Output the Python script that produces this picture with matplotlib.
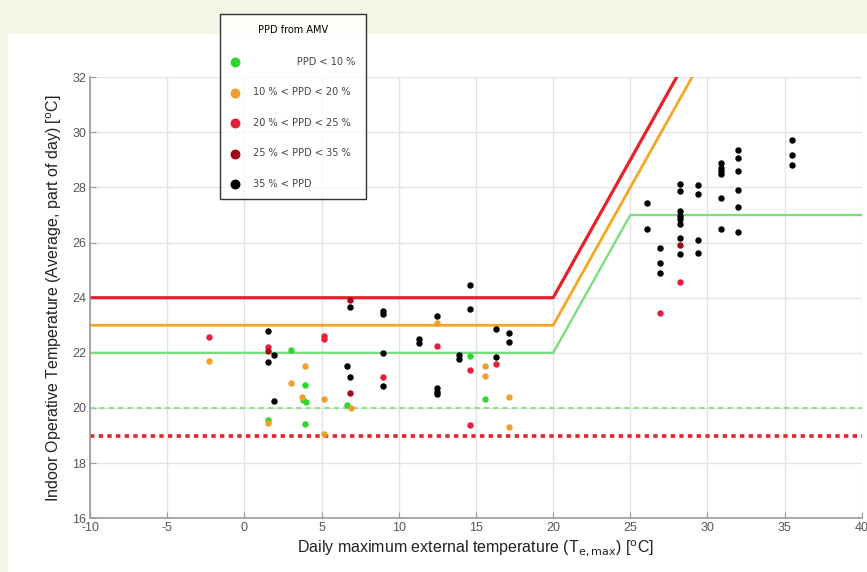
import numpy as np
import matplotlib
matplotlib.use("Agg")
import matplotlib.pyplot as plt
from matplotlib.patches import Rectangle

plt.rcParams["axes.unicode_minus"] = False

# observations grouped by PPD class (x = daily max external temp, y = indoor operative temp)
green_x = [1.5, 3.0, 3.9, 3.8, 4.0, 3.9, 6.65, 14.6, 15.6]
green_y = [19.55, 22.1, 20.85, 20.3, 20.22, 19.42, 20.1, 21.9, 20.33]

orange_x = [-2.3, 1.5, 3.0, 3.9, 3.73, 5.13, 5.13, 6.9, 12.47, 15.6, 15.6, 17.15, 17.15]
orange_y = [21.72, 19.45, 20.92, 21.53, 20.41, 20.33, 19.05, 20.0, 23.08, 21.54, 21.16, 20.41, 19.3]

red_x = [-2.3, 1.5, 5.13, 5.13, 9.0, 12.47, 14.6, 14.6, 16.29, 26.9, 28.2]
red_y = [22.59, 22.2, 22.62, 22.5, 21.14, 22.25, 21.36, 19.38, 21.6, 23.44, 24.57]

darkred_x = [1.5, 6.82, 6.82, 28.2]
darkred_y = [22.05, 23.93, 20.56, 25.9]

black_x = [1.5, 1.9, 1.5, 1.9, 6.82, 6.65, 6.82, 9.0, 9.0, 9.0, 9.0, 11.28, 11.28,
           12.47, 12.47, 12.47, 12.47, 13.87, 13.87, 14.63, 14.63, 16.29, 16.29, 17.15, 17.15,
           26.06, 26.06, 26.9, 26.9, 26.9, 28.2, 28.2, 28.2, 28.2, 28.2, 28.2, 28.2, 28.2,
           29.4, 29.4, 29.4, 29.4, 30.9, 30.9, 30.9, 30.9, 30.9, 30.9,
           32.0, 32.0, 32.0, 32.0, 32.0, 32.0, 35.5, 35.5, 35.5]
black_y = [22.8, 21.92, 21.65, 20.27, 23.66, 21.53, 21.14, 23.53, 23.41, 21.99, 20.81, 22.51, 22.35,
           23.35, 20.72, 20.59, 20.5, 21.93, 21.77, 24.45, 23.6, 22.88, 21.84, 22.71, 22.41,
           27.44, 26.5, 25.8, 25.26, 24.88, 28.13, 27.88, 27.13, 26.96, 26.84, 26.69, 26.16, 25.6,
           28.1, 27.75, 26.08, 25.62, 28.87, 28.72, 28.6, 28.5, 27.6, 26.5,
           29.36, 29.08, 28.6, 27.9, 27.3, 26.39, 29.71, 29.18, 28.8]

# comfort limits: flat base value, rising 1:1 above 20 C (green capped at 27)
limit_x = [-10, 20, 25, 40]
red_limit = [24, 24, 29, 44]
orange_limit = [23, 23, 28, 43]
green_limit = [22, 22, 27, 27]
green_low = 20
red_low = 19

fig = plt.figure(figsize=(8.67, 5.72), dpi=100)
fig.patch.set_facecolor("#f6f6e6")
fig.patches.append(Rectangle((8 / 867, 0), 1, 1 - 34 / 572, transform=fig.transFigure,
                             facecolor="white", edgecolor="none", zorder=-10))

ax = fig.add_axes([0.104, 0.094, 0.89, 0.771])
ax.set_facecolor("white")

ax.plot(limit_x, red_limit, color="#e8202a", lw=2.3, zorder=2)
ax.plot(limit_x, orange_limit, color="#f5a623", lw=2.0, zorder=2)
ax.plot(limit_x, green_limit, color="#7ddc7d", lw=1.7, zorder=2)
ax.axhline(green_low, color="#8ee08e", lw=1.5, ls=(0, (2.5, 2)), zorder=2)
ax.axhline(red_low, color="#e8202a", lw=2.6, ls=(0, (1.2, 1.2)), zorder=2)

ms = 13
ax.scatter(green_x, green_y, s=ms, color="#2fd62f", zorder=3, label="              PPD < 10 %")
ax.scatter(orange_x, orange_y, s=ms, color="#eea02a", zorder=3, label="10 % < PPD < 20 %")
ax.scatter(red_x, red_y, s=ms, color="#e2203a", zorder=3, label="20 % < PPD < 25 %")
ax.scatter(darkred_x, darkred_y, s=ms, color="#a00818", zorder=3, label="25 % < PPD < 35 %")
ax.scatter(black_x, black_y, s=ms, color="black", zorder=3, label="35 % < PPD")

ax.set_xlim(-10, 40)
ax.set_ylim(16, 32)
ax.set_xticks(np.arange(-10, 41, 5))
ax.set_yticks(np.arange(16, 33, 2))
ax.grid(True, color="#e4e4e4", lw=1)
ax.set_axisbelow(True)
for side in ["top", "right"]:
    ax.spines[side].set_visible(False)
for side in ["left", "bottom"]:
    ax.spines[side].set_color("#9a9a9a")
    ax.spines[side].set_linewidth(1.2)
ax.tick_params(direction="in", length=4, color="#9a9a9a", labelsize=9,
               labelcolor="#555555", pad=3)
for lbl in ax.get_xticklabels() + ax.get_yticklabels():
    lbl.set_family("Liberation Sans")

ax.set_xlabel(r"Daily maximum external temperature (T$_{\mathrm{e,max}}$) [$^{\mathrm{o}}$C]",
              fontsize=11.5, family="Liberation Sans", labelpad=3, color="#222222")
ax.set_ylabel(r"Indoor Operative Temperature (Average, part of day) [$^{\mathrm{o}}$C]",
              fontsize=11.5, family="Liberation Sans", labelpad=6, color="#222222")

leg = fig.legend(loc="upper left", bbox_to_anchor=(220 / 867, 1 - 14 / 572),
                 borderaxespad=0, title="PPD from AMV", title_fontsize=7, fontsize=7,
                 frameon=True, fancybox=False, edgecolor="black",
                 labelspacing=2.1, borderpad=1.1, handletextpad=1.5,
                 handlelength=0.8, scatterpoints=1, markerscale=1.7)
leg.get_frame().set_linewidth(1.0)
leg._legend_box.sep = 16
for t in leg.get_texts():
    t.set_color("#444444")

fig.savefig("out.png", dpi=100)
